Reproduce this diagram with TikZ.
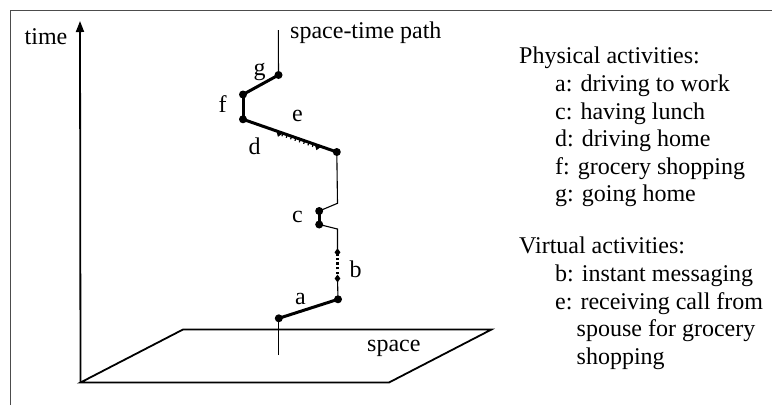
\documentclass[tikz,border=0pt]{standalone}
\usepackage{fontspec}
\setmainfont{Liberation Serif}
\usetikzlibrary{calc,arrows.meta,shapes.geometric,decorations.markings}
\begin{document}
\begin{tikzpicture}[x=1pt,y=-1pt,
  thinpath/.style={line width=1.1pt},
  thickpath/.style={line width=3pt},
  dot/.style={circle,fill,inner sep=0pt,minimum size=8pt},
  dmd/.style={diamond,fill,inner sep=0pt,minimum width=6pt,minimum height=8pt},
  lbl/.style={inner sep=0pt,font=\fontsize{24}{26}\selectfont},
  txt/.style={inner sep=0pt,anchor=base west,font=\fontsize{24}{27}\selectfont},
  axisline/.style={line width=1.8pt}]
\useasboundingbox (0,0) rectangle (772,405);
% frame
\draw[line width=1pt,black!70] (10,405) -- (10,10) -- (772,10);
% axes and plane
\coordinate (o) at (80.5,382.5);
\coordinate (ttop) at (80,21);
\coordinate (p1) at (389,382.5);
\coordinate (p2) at (491.5,329.5);
\coordinate (p3) at (183,329.5);
\draw[axisline,-{Triangle[length=11pt,width=8pt]}] (o) -- (ttop);
\draw[axisline,line join=miter] (o) -- (p1) -- (p2) -- (p3) -- cycle;
\node[lbl,anchor=base] (time) at (46,44) {time};
\node[lbl,anchor=base west] (space) at (367,351.5) {space};
% path points
\coordinate (start) at (278.8,355);
\node[dot] (a1) at (278.8,318.3) {};
\node[dot] (a2) at (338,299.3) {};
\node[dmd] (b1) at (337.5,278.5) {};
\node[dmd] (b2) at (337.5,252.3) {};
\coordinate (k1) at (337.5,229);
\node[dot] (c1) at (319.2,224.5) {};
\node[dot] (c2) at (319.2,211) {};
\coordinate (k2) at (337.5,203.3);
\node[dot] (d1) at (336.8,152) {};
\node[dot] (d2) at (243,119.3) {};
\node[dot] (f2) at (243,94.5) {};
\node[dot] (g2) at (278.5,75) {};
\coordinate (top) at (278.3,30);
% connectors
\draw[thinpath] (start) -- (a1.center);
\draw[thickpath] (a1.center) -- (a2.center);
\draw[thinpath] (a2.center) -- (b1.center);
\draw[line width=2.8pt,dash pattern=on 2.4pt off 2.2pt] (b1.center) -- (b2.center);
\draw[thinpath] (b2.center) -- (k1) -- (c1.center);
\draw[thickpath] (c1.center) -- (c2.center);
\draw[thinpath] (c2.center) -- (k2) -- (d1.center);
\draw[thickpath] (d1.center) -- (d2.center);
\path[postaction={decorate},decoration={markings,
   mark=at position 0.20 with {\fill (-3.5pt,0) -- (0,5pt) -- (3.5pt,0) -- cycle;},
   mark=between positions 0.25 and 0.58 step 4.6pt with {\draw[line width=1.2pt] (0,0) -- (0,3.2pt);},
   mark=at position 0.61 with {\fill (-3.5pt,0) -- (0,5pt) -- (3.5pt,0) -- cycle;}}]
   (d1.center) -- (d2.center);
\draw[thickpath] (d2.center) -- (f2.center);
\draw[thickpath] (f2.center) -- (g2.center);
\draw[thinpath] (g2.center) -- (top);
% letter labels
\node[lbl] (la) at (300.5,298.5) {a};
\node[lbl] (lb) at (355.7,269) {b};
\node[lbl] (lc) at (297.5,216.5) {c};
\node[lbl] (ld) at (254.7,146.5) {d};
\node[lbl] (le) at (297.5,115.5) {e};
\node[lbl] (lf) at (222.7,104.5) {f};
\node[lbl] (lg) at (259.5,71.5) {g};
\node[lbl,anchor=base west] (stp) at (290,38.5) {space-time path};
% legend
\node[txt] (ph) at (519,63.3) {Physical activities:};
\node[txt] (t1) at (555,91.7) {a: driving to work};
\node[txt] (t2) at (555,119.3) {c: having lunch};
\node[txt] (t3) at (555,146.7) {d: driving home};
\node[txt] (t4) at (555,174) {f: grocery shopping};
\node[txt] (t5) at (555,201.3) {g: going home};
\node[txt] (vi) at (519,253.3) {Virtual activities:};
\node[txt] (t6) at (555,281.7) {b: instant messaging};
\node[txt] (t7) at (555,309) {e: receiving call from};
\node[txt] (t8) at (576.5,336.7) {spouse for grocery};
\node[txt] (t9) at (576.5,364) {shopping};
\end{tikzpicture}
\end{document}
